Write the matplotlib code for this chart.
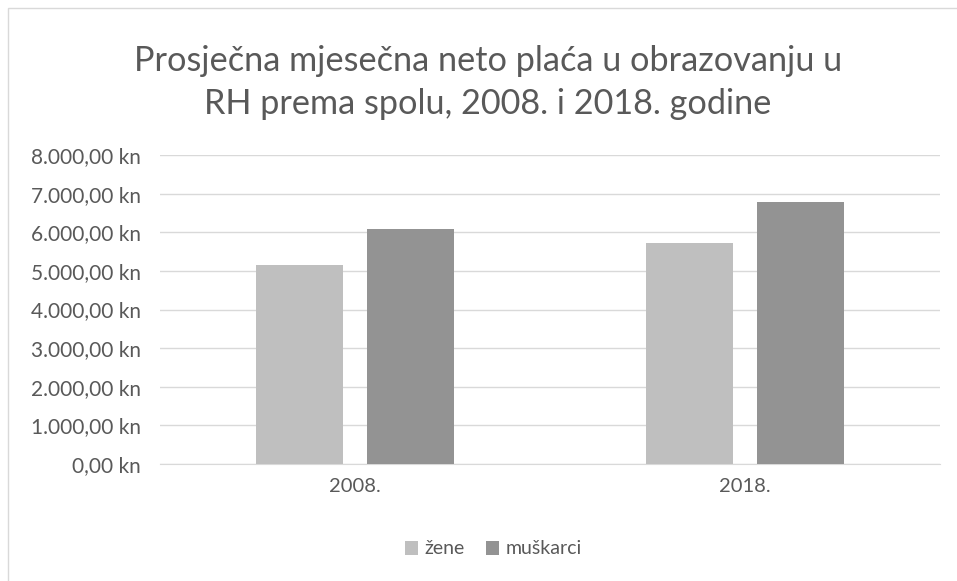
import numpy as np
import matplotlib.pyplot as plt
from matplotlib.patches import Rectangle
from matplotlib.ticker import FuncFormatter

# Data
years = ["2008.", "2018."]
zene = [5140, 5710]
muskarci = [6072, 6782]

plt.rcParams['font.family'] = ['Lato', 'DejaVu Sans']

fig = plt.figure(figsize=(9.57, 5.81), dpi=100)
ax = fig.add_axes([160/957, 1-464/581, 780/957, 309/581])

x = np.arange(len(years))
w = 0.223
gap = 0.061
ax.bar(x - (w + gap)/2, zene, w, color='#BFBFBF', label='žene', zorder=3)
ax.bar(x + (w + gap)/2, muskarci, w, color='#939393', label='muškarci', zorder=3)

ax.set_xlim(-0.5, 1.5)
ax.set_ylim(0, 8000)
ax.set_yticks(np.arange(0, 8001, 1000))

def kn(v, pos):
    s = f"{v:,.2f}".replace(",", "X").replace(".", ",").replace("X", ".")
    return s + " kn"

ax.yaxis.set_major_formatter(FuncFormatter(kn))
ax.set_xticks(x)
ax.set_xticklabels(years)
ax.grid(axis='y', color='#D9D9D9', linewidth=1, zorder=0)
for s in ['top', 'right', 'left']:
    ax.spines[s].set_visible(False)
ax.spines['bottom'].set_color('#D9D9D9')
ax.tick_params(axis='y', length=0, labelsize=15, labelcolor='#595959', pad=14)
ax.tick_params(axis='x', length=0, labelsize=14.5, labelcolor='#595959', pad=10)

fig.text(488/957, 1-61/581, "Prosječna mjesečna neto plaća u obrazovanju u",
         ha='center', va='center', fontsize=24.7, color='#595959')
fig.text(488/957, 1-104/581, "RH prema spolu, 2008. i 2018. godine",
         ha='center', va='center', fontsize=24.7, color='#595959')

fig.legend(loc='center', bbox_to_anchor=(493/957, 1-549/581), ncol=2, frameon=False,
           fontsize=14, labelcolor='#595959', handlelength=0.7, handleheight=0.7,
           handletextpad=0.3, columnspacing=1.1)

fig.patches.append(Rectangle((8/957, -0.1), 1.0, 1.1 - 8/581, transform=fig.transFigure,
                             fill=False, edgecolor='#D9D9D9', linewidth=1))

fig.savefig("out.png", dpi=100)
